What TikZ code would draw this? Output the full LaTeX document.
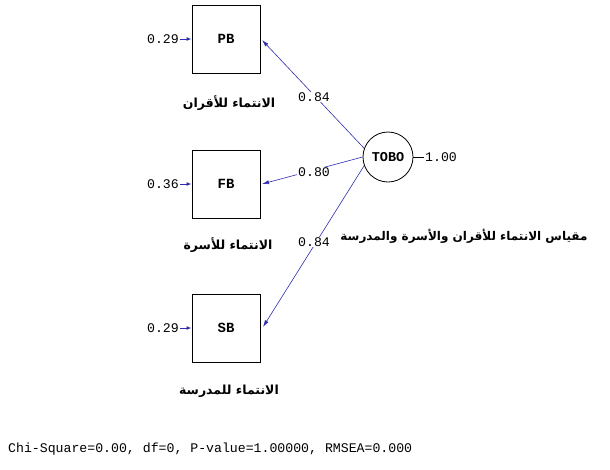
\documentclass[tikz,border=0pt]{standalone}
\usepackage{fontspec}
\setmonofont{Liberation Mono}
\newfontfamily\arabicfont[Script=Arabic]{DejaVu Sans}
\TeXXeTstate=1
\usetikzlibrary{arrows.meta}
\definecolor{pathblue}{RGB}{45,45,175}
\tikzset{
  varbox/.style={draw, line width=0.9pt, minimum width=68pt, minimum height=68pt,
    inner sep=0pt, font=\fontsize{14}{14}\ttfamily\bfseries},
  latent/.style={draw, circle, line width=0.8pt, minimum size=50pt, inner sep=0pt,
    font=\fontsize{13.5}{13.5}\ttfamily\bfseries},
  num/.style={font=\fontsize{13.2}{13}\ttfamily, inner sep=1pt},
  pathnum/.style={num, fill=white},
  arlabel/.style={font=\fontsize{12.5}{14}\arabicfont\bfseries, inner sep=0pt},
  loading/.style={draw=pathblue, line width=0.6pt, -{Latex[length=7pt,width=4pt]}},
  errarrow/.style={draw=pathblue, line width=1pt, -{Latex[length=5pt,width=4pt]}},
}
\begin{document}
\begin{tikzpicture}[x=1pt,y=-1pt]
\useasboundingbox (0,0) rectangle (610,469);
% observed indicators
\node[varbox] (pb) at (226,39) {PB};
\node[varbox] (fb) at (226,184) {FB};
\node[varbox] (sb) at (226,328) {SB};
% latent factor
\node[latent] (tobo) at (388,157) {TOBO};
% error variances
\node[num, anchor=east] (epb) at (180,39) {0.29};
\node[num, anchor=east] (efb) at (180,184) {0.36};
\node[num, anchor=east] (esb) at (180,328) {0.29};
\draw[errarrow] (epb.east) -- (pb.west);
\draw[errarrow] (efb.east) -- (fb.west);
\draw[errarrow] (esb.east) -- (sb.west);
% factor variance
\node[num, anchor=west] (vt) at (424,157) {1.00};
\draw[line width=0.5pt] (tobo.east) -- (vt.west);
% loadings
\coordinate (pbin) at (262,40);
\coordinate (fbin) at (262,184);
\coordinate (sbin) at (263,327);
\draw[loading] (tobo.160) -- (pbin);
\draw[loading] (tobo.180) -- (fbin);
\draw[loading] (tobo.200) -- (sbin);
\node[pathnum] (l1) at (314,97) {0.84};
\node[pathnum] (l2) at (314,172) {0.80};
\node[pathnum] (l3) at (314,242) {0.84};
% arabic labels
\node[arlabel] (apb) at (229,103) {\beginR الانتماء للأقران\endR};
\node[arlabel] (afb) at (228,245) {\beginR الانتماء للأسرة\endR};
\node[arlabel] (asb) at (229,391) {\beginR الانتماء للمدرسة\endR};
\node[arlabel, font=\fontsize{12}{14}\arabicfont\bfseries] (atobo) at (464,236)
  {\beginR مقياس الانتماء للأقران والأسرة والمدرسة\endR};
% fit statistics
\node[num, anchor=west] (fit) at (7,449)
  {Chi-Square=0.00, df=0, P-value=1.00000, RMSEA=0.000};
\end{tikzpicture}
\end{document}
